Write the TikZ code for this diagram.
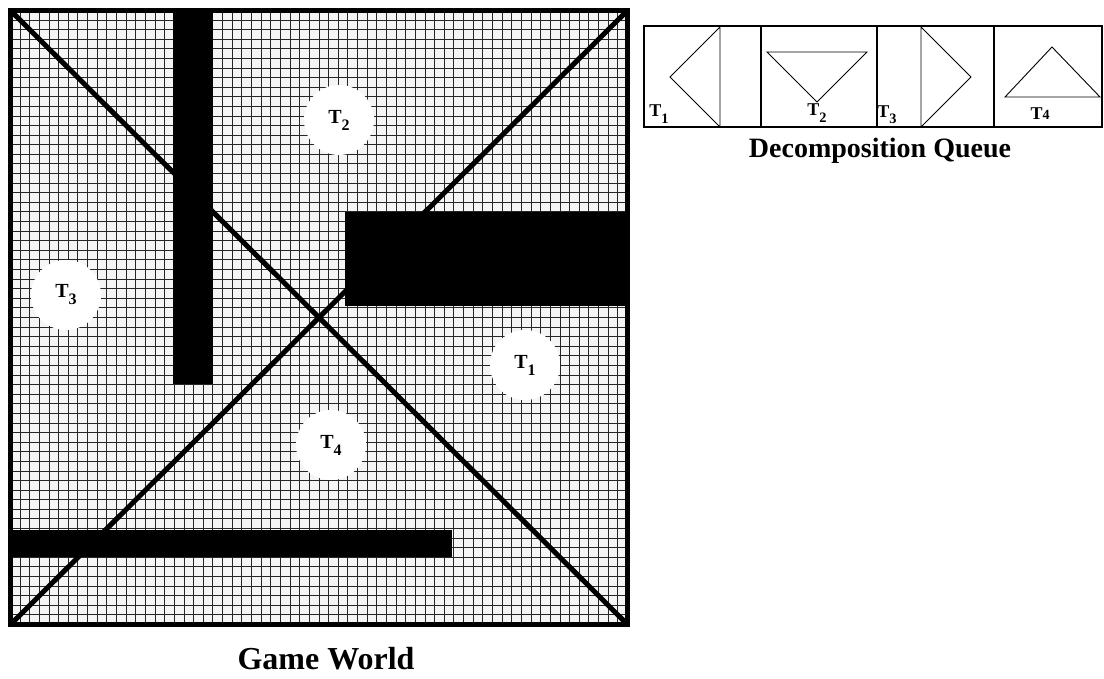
\documentclass[tikz,border=0pt]{standalone}
\usepackage{fontspec}
\setmainfont{Liberation Serif}
\usetikzlibrary{positioning,calc}

\newcommand{\tsub}[1]{T\raisebox{-0.35em}{\scalebox{0.8}{#1}}}

\begin{document}
\begin{tikzpicture}[x=1pt, y=-1pt, font=\bfseries,
  wall/.style={fill=black},
  cut/.style={line width=5pt},
  gridline/.style={line width=1pt,black!85},
  zone/.style={circle,fill=white,minimum size=70pt,inner sep=0pt,
    font=\fontsize{20}{20}\bfseries\selectfont},
  qline/.style={line width=1.2pt},
  tri/.style={line width=0.9pt},
  qlab/.style={font=\fontsize{18}{18}\bfseries\selectfont,inner sep=0pt}]
  \useasboundingbox (0,0) rectangle (1104,679);
  % game world corners
  \coordinate (nw) at (10.5,10.5);  \coordinate (ne) at (627.5,10.5);
  \coordinate (sw) at (10.5,624.5); \coordinate (se) at (627.5,624.5);
  \fill[black!4] (nw) rectangle (se);
  \foreach \i in {1,...,63}{
    \draw[gridline] ($(nw)!\i/64!(ne)$) -- ($(sw)!\i/64!(se)$);
    \draw[gridline] ($(nw)!\i/64!(sw)$) -- ($(ne)!\i/64!(se)$);
  }
  % free zones
  \node[zone] (t2) at (339,120) {\tsub{2}};
  \node[zone] (t3) at (66,295) {\tsub{3}};
  \node[zone] (t1) at (525,365) {\tsub{1}};
  \node[zone] (t4) at (331,445) {\tsub{4}};
  \draw[cut] (nw) -- (se);
  \draw[cut] (sw) -- (ne);
  % obstacles
  \fill[wall] (173,8) rectangle (213,384);
  \fill[wall] (345,212) rectangle (630,306);
  \fill[wall] (8,530) rectangle (452,557);
  \draw[cut] (nw) rectangle (se);
  \node[anchor=base,font=\fontsize{32}{32}\bfseries\selectfont] (world) at (326,669) {Game World};
  % decomposition queue
  \draw[qline] (644,26) rectangle (1102,127);
  \draw[qline] (761,26) -- (761,127);
  \draw[qline] (877,26) -- (877,127);
  \draw[qline] (994,26) -- (994,127);
  \draw[tri] (720,27) -- (670,77) -- (720,127) -- cycle;
  \draw[tri] (767,52) -- (867,52) -- (817,102) -- cycle;
  \draw[tri] (921,27) -- (971,77) -- (921,127) -- cycle;
  \draw[tri] (1005,97) -- (1100,97) -- (1052,47) -- cycle;
  \node[qlab] (q1) at (659,114) {\tsub{1}};
  \node[qlab] (q2) at (817,113) {\tsub{2}};
  \node[qlab] (q3) at (887,115) {\tsub{3}};
  \node[qlab] (q4) at (1040,114) {T{\fontsize{14}{14}\selectfont 4}};
  \node[anchor=base,font=\fontsize{28}{28}\bfseries\selectfont] (queue) at (880,158) {Decomposition Queue};
\end{tikzpicture}
\end{document}
